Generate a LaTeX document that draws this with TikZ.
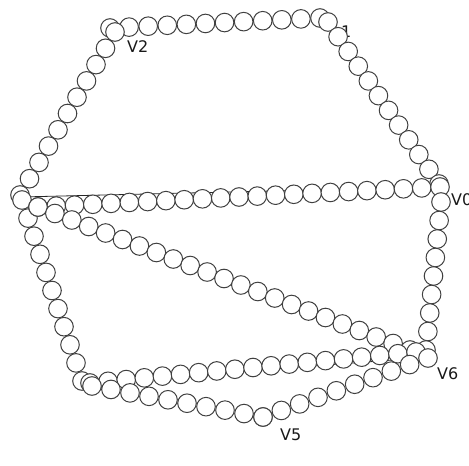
\documentclass[tikz,border=0pt]{standalone}
\usepackage{fontspec}
\setmainfont{DejaVu Sans}
\usetikzlibrary{calc}
\tikzset{
  bead/.style={draw=black!75, fill=white, line width=1pt},
  edgeline/.style={draw=black!85, line width=0.8pt},
  vlabel/.style={anchor=base west, inner sep=0pt, font=\fontsize{16}{16}\selectfont, text=black!90}
}
\newcommand\beadrow[3]{\foreach \k in {0,...,#3}{\path[bead] ($(#1)!\k/#3!(#2)$) circle[radius=9.3pt];}}
\begin{document}
\begin{tikzpicture}[x=1pt,y=-1pt]
\useasboundingbox (0,0) rectangle (469,466);
% vertices
\coordinate (V0) at (440,187);
\coordinate (V1) at (322,18);
\coordinate (V2) at (112,30);
\coordinate (V3) at (20,197);
\coordinate (V4) at (84,383);
\coordinate (V5) at (263,418);
\coordinate (V6) at (420,358);
% bead row end points
\coordinate (a21) at (110,28);  \coordinate (b21) at (320,18);
\coordinate (a10) at (328,22);  \coordinate (b10) at (439,184);
\coordinate (a23) at (115,32);  \coordinate (b23) at (20,195);
\coordinate (a34) at (22,200);  \coordinate (b34) at (82,381);
\coordinate (a30) at (38,207);  \coordinate (b30) at (440,187);
\coordinate (a36) at (38,207);  \coordinate (b36) at (410,350);
\coordinate (a06) at (441,202); \coordinate (b06) at (426,350);
\coordinate (a46) at (90,383);  \coordinate (b46) at (416,352);
\coordinate (a45) at (92,386);  \coordinate (b45) at (263,417);
\coordinate (a56) at (263,417); \coordinate (b56) at (428,358);
% labels
\node[vlabel] (l1) at (341,37) {1};
\node[vlabel] (l2) at (127,52) {V2};
\node[vlabel] (l0) at (451,205) {V0};
\node[vlabel] (l6) at (437,379) {V6};
\node[vlabel] (l5) at (280,440) {V5};
% edge lines
\draw[edgeline] (V3) -- (V0);
\draw[edgeline] (V4) -- (V6);
% bead rows
\beadrow{a21}{b21}{11}
\beadrow{a10}{b10}{11}
\beadrow{a23}{b23}{10}
\beadrow{a34}{b34}{10}
\beadrow{a30}{b30}{22}
\beadrow{a36}{b36}{22}
\beadrow{a06}{b06}{8}
\beadrow{a46}{b46}{18}
\beadrow{a45}{b45}{9}
\beadrow{a56}{b56}{9}
\end{tikzpicture}
\end{document}
